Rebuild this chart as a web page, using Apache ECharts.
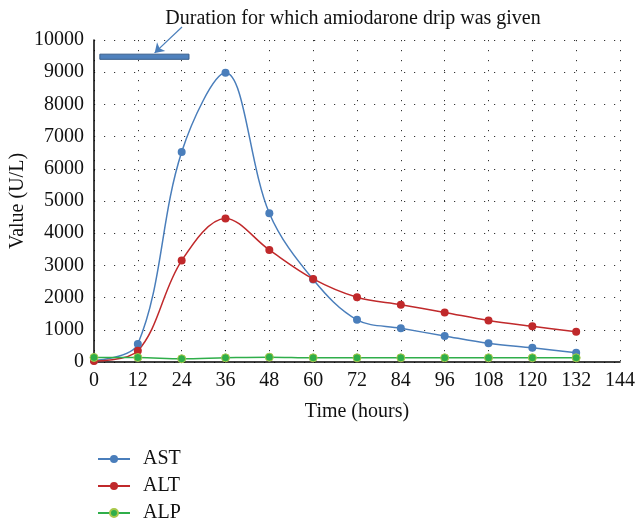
<!DOCTYPE html>
<html><head><meta charset="utf-8">
<script src="https://cdn.jsdelivr.net/npm/echarts@6/dist/echarts.min.js"></script>
<style>html,body{margin:0;padding:0;background:#fff}#c{width:636px;height:524px}</style>
</head><body><div id="c"></div>
<script>
var hours = [0, 12, 24, 36, 48, 60, 72, 84, 96, 108, 120, 132];
var ast = [50, 560, 6520, 8980, 4620, 2560, 1310, 1050, 810, 580, 440, 290];
var alt = [30, 350, 3150, 4460, 3480, 2580, 2010, 1780, 1540, 1290, 1110, 940];
var alp = [140, 140, 100, 130, 150, 130, 130, 130, 130, 130, 130, 130];
var dripHours = [1.6, 26];
var dripBand = [9400, 9560];
var arrowTo = [16.6, 9600];
var annotation = 'Duration for which amiodarone drip was given';

function pairs(v){ return hours.map(function(h,i){ return [h, v[i]]; }); }
var FONT = '"Liberation Serif", "DejaVu Serif", serif';
var FS = 20;
var chart = echarts.init(document.getElementById('c'));
function mk(name, data, color, border){
  return {
    name: name, type: 'line', data: pairs(data), smooth: 0.35,
    symbol: 'circle', symbolSize: 8,
    lineStyle: {color: color, width: 1.5},
    itemStyle: {color: color, borderColor: border || color, borderWidth: border ? 1 : 0},
    emphasis: {disabled: true}
  };
}
var sAst = mk('AST', ast, '#4a7ebb');
sAst.markArea = {
  silent: true,
  itemStyle: {color: '#4f81bd', borderColor: '#385d8a', borderWidth: 1},
  data: [[{coord: [dripHours[0], dripBand[0]]}, {coord: [dripHours[1], dripBand[1]]}]]
};
sAst.markLine = {
  silent: true, symbol: ['none', 'arrow'], symbolSize: 9,
  lineStyle: {color: '#4a7ebb', type: 'solid', width: 1.2},
  label: {show: false},
  data: [[{x: 182, y: 27}, {coord: arrowTo}]]
};
chart.setOption({
  animation: false,
  title: {text: annotation, left: 348, top: 4, textAlign: 'center',
    textStyle: {fontFamily: FONT, fontSize: FS, fontWeight: 'normal', color: '#111'}},
  grid: {left: 94, right: 16, top: 40, bottom: 162, containLabel: false, outerBoundsMode: 'none'},
  legend: {
    orient: 'vertical', left: 92, top: 444, height: 90, itemGap: 7, itemWidth: 32, itemHeight: 10,
    data: ['AST', 'ALT', 'ALP'],
    textStyle: {fontFamily: FONT, fontSize: FS, color: '#111', padding: [0,0,0,8]}
  },
  xAxis: {
    type: 'value', min: 0, max: 144, interval: 12,
    name: 'Time (hours)', nameLocation: 'middle', nameGap: 40,
    nameTextStyle: {fontFamily: FONT, fontSize: FS, color: '#111'},
    axisLine: {show: true, lineStyle: {color: '#000', width: 1.5}},
    axisTick: {show: false},
    axisLabel: {fontFamily: FONT, fontSize: FS, color: '#111', margin: 9},
    splitLine: {show: true, lineStyle: {color: '#333', type: [1.2, 8.8], width: 1}}
  },
  yAxis: {
    type: 'value', min: 0, max: 10000, interval: 1000,
    name: 'Value (U/L)', nameLocation: 'middle', nameGap: 66, nameRotate: 90,
    nameMoveOverlap: false,
    nameTextStyle: {fontFamily: FONT, fontSize: FS, color: '#111'},
    axisLine: {show: true, lineStyle: {color: '#000', width: 1.5}},
    axisTick: {show: false},
    axisLabel: {fontFamily: FONT, fontSize: FS, color: '#111', margin: 10,
      formatter: function(v){ return String(v); }},
    splitLine: {show: true, lineStyle: {color: '#333', type: [1.2, 8.8], width: 1}}
  },
  series: [
    sAst,
    mk('ALT', alt, '#c0292b'),
    mk('ALP', alp, '#2fae4a', '#a8c84a')
  ]
});
</script></body></html>
